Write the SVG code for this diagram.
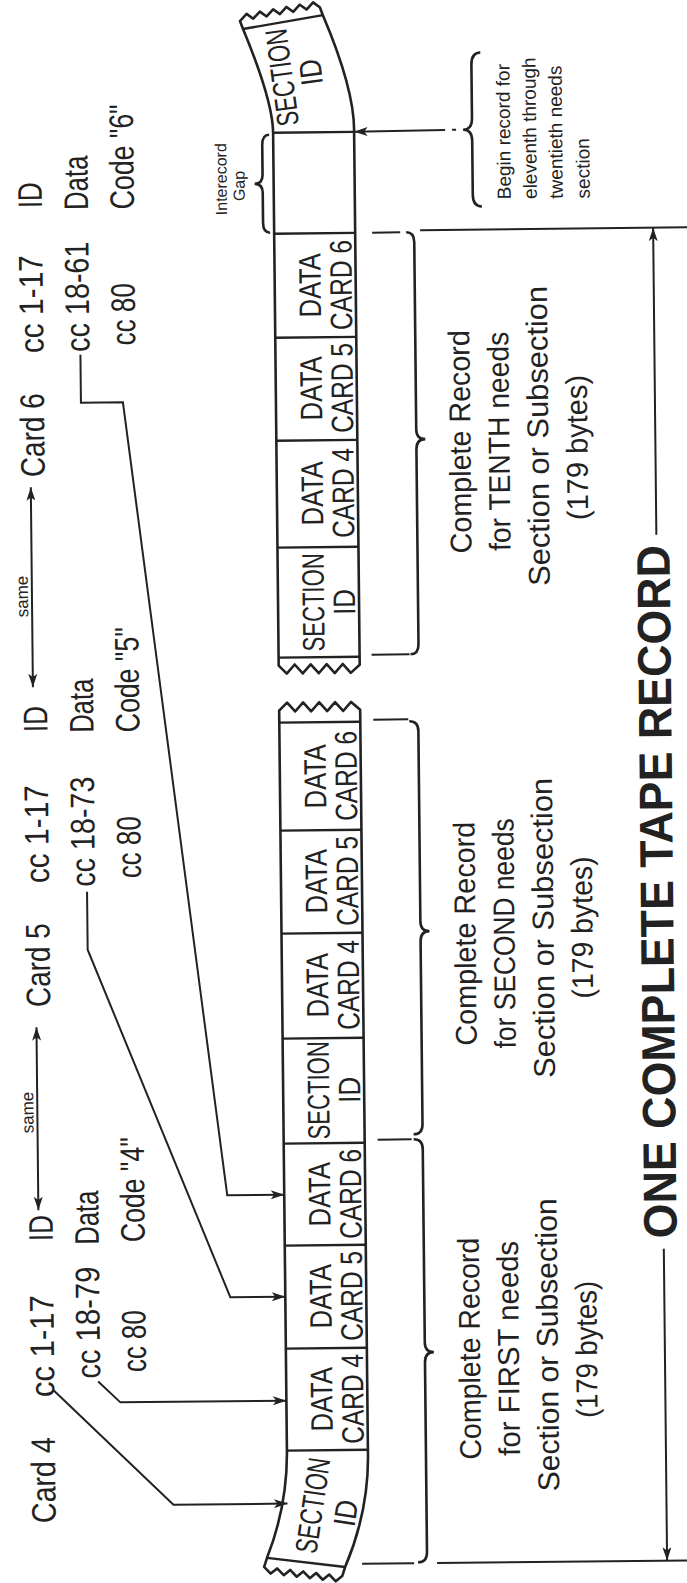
<svg xmlns="http://www.w3.org/2000/svg" width="687" height="1583" viewBox="0 0 687 1583">
<style>
.t{font-family:"Liberation Sans",Arial,sans-serif;fill:#222}
.lab{font-size:34px}
.sm{font-size:17px}
.box{font-size:31px}
.rec{font-size:30px}
.note{font-size:19px}
.gap{font-size:16px}
.big{font-size:47px;font-weight:bold}
.ln{stroke:#222;stroke-width:2;fill:none}
.br{stroke:#222;stroke-width:2.6;fill:none}
.tp{stroke:#222;stroke-width:2.6;fill:#fff;stroke-linejoin:round}
.sep{stroke:#222;stroke-width:2.4}
</style>
<defs>
<marker id="ah" viewBox="0 0 12 8" refX="12" refY="4" markerWidth="14" markerHeight="9" markerUnits="userSpaceOnUse" orient="auto-start-reverse"><path d="M0,0 L12,4 L0,8 L3,4 Z" fill="#222"/></marker>
</defs>
<rect width="687" height="1583" fill="#fff"/>
<g transform="rotate(-0.6 343 790)">

<g id="tape-lower">
<path class="tp" d="M280,710 L288,702 L296,711 L304,702 L312,711 L320,702 L328,711 L336,702 L344,711 L352,702 L361,710 L361,1450 Q362,1510 337,1567 L334,1576 L327.5,1581.2 L321,1574.3 L314.5,1579.5 L308,1572.7 L301.5,1577.8 L295,1571 L288.5,1576.2 L282,1569.3 L275.5,1574.5 L269,1567.7 L262.5,1572.8 L256,1566 L259,1557 Q280,1505 280,1450 Z"/>
<line class="sep" x1="280" y1="722" x2="361" y2="722"/>
<line class="sep" x1="280" y1="830" x2="361" y2="830"/>
<line class="sep" x1="280" y1="933" x2="361" y2="933"/>
<line class="sep" x1="280" y1="1038" x2="361" y2="1038"/>
<line class="sep" x1="280" y1="1143" x2="361" y2="1143"/>
<line class="sep" x1="280" y1="1245" x2="361" y2="1245"/>
<line class="sep" x1="280" y1="1348" x2="361" y2="1348"/>
<line class="sep" x1="280" y1="1450" x2="361" y2="1450"/>
<line class="sep" x1="259" y1="1557" x2="337" y2="1567"/>
</g>

<g id="tape-upper">
<path class="tp" d="M280,665 L288,673 L296,664 L304,673 L312,664 L320,673 L328,664 L336,673 L344,664 L352,673 L361,665 L361,132 Q362,90 331,15 L328,7 L321.3,2.1 L314.7,9.2 L308,4.3 L301.3,11.3 L294.7,6.4 L288,13.5 L281.3,8.6 L274.7,15.7 L268,10.8 L261.3,17.8 L254.7,12.9 L248,20 L251,28 Q280,100 280,132 Z"/>
<line class="sep" x1="280" y1="657" x2="361" y2="657"/>
<line class="sep" x1="280" y1="547" x2="361" y2="547"/>
<line class="sep" x1="280" y1="440" x2="361" y2="440"/>
<line class="sep" x1="280" y1="337" x2="361" y2="337"/>
<line class="sep" x1="280" y1="233" x2="361" y2="233"/>
<line class="sep" x1="280" y1="132" x2="361" y2="132"/>
<line class="sep" x1="251" y1="28" x2="331" y2="15"/>
</g>

<g id="rec1-section">
<text class="t box" text-anchor="middle" transform="translate(305,1505) rotate(-81)" y="11" textLength="96" lengthAdjust="spacingAndGlyphs">SECTION</text>
<text class="t box" text-anchor="middle" transform="translate(338,1513) rotate(-81)" y="11" textLength="26" lengthAdjust="spacingAndGlyphs">ID</text>
</g>
<g id="rec1-card4">
<text class="t box" text-anchor="middle" x="326" y="1399" transform="rotate(-90 326 1399)" textLength="64" lengthAdjust="spacingAndGlyphs">DATA</text>
<text class="t box" text-anchor="middle" x="357" y="1399" transform="rotate(-90 357 1399)" textLength="90" lengthAdjust="spacingAndGlyphs">CARD 4</text>
</g>
<g id="rec1-card5">
<text class="t box" text-anchor="middle" x="326" y="1296" transform="rotate(-90 326 1296)" textLength="64" lengthAdjust="spacingAndGlyphs">DATA</text>
<text class="t box" text-anchor="middle" x="357" y="1296" transform="rotate(-90 357 1296)" textLength="90" lengthAdjust="spacingAndGlyphs">CARD 5</text>
</g>
<g id="rec1-card6">
<text class="t box" text-anchor="middle" x="326" y="1194" transform="rotate(-90 326 1194)" textLength="64" lengthAdjust="spacingAndGlyphs">DATA</text>
<text class="t box" text-anchor="middle" x="357" y="1194" transform="rotate(-90 357 1194)" textLength="90" lengthAdjust="spacingAndGlyphs">CARD 6</text>
</g>
<g id="rec2-section">
<text class="t box" text-anchor="middle" x="326" y="1090" transform="rotate(-90 326 1090)" textLength="98" lengthAdjust="spacingAndGlyphs">SECTION</text>
<text class="t box" text-anchor="middle" x="357" y="1090" transform="rotate(-90 357 1090)" textLength="26" lengthAdjust="spacingAndGlyphs">ID</text>
</g>
<g id="rec2-card4">
<text class="t box" text-anchor="middle" x="326" y="985" transform="rotate(-90 326 985)" textLength="64" lengthAdjust="spacingAndGlyphs">DATA</text>
<text class="t box" text-anchor="middle" x="357" y="985" transform="rotate(-90 357 985)" textLength="90" lengthAdjust="spacingAndGlyphs">CARD 4</text>
</g>
<g id="rec2-card5">
<text class="t box" text-anchor="middle" x="326" y="881" transform="rotate(-90 326 881)" textLength="64" lengthAdjust="spacingAndGlyphs">DATA</text>
<text class="t box" text-anchor="middle" x="357" y="881" transform="rotate(-90 357 881)" textLength="90" lengthAdjust="spacingAndGlyphs">CARD 5</text>
</g>
<g id="rec2-card6">
<text class="t box" text-anchor="middle" x="326" y="776" transform="rotate(-90 326 776)" textLength="64" lengthAdjust="spacingAndGlyphs">DATA</text>
<text class="t box" text-anchor="middle" x="357" y="776" transform="rotate(-90 357 776)" textLength="90" lengthAdjust="spacingAndGlyphs">CARD 6</text>
</g>
<g id="rec10-section">
<text class="t box" text-anchor="middle" x="326" y="602" transform="rotate(-90 326 602)" textLength="98" lengthAdjust="spacingAndGlyphs">SECTION</text>
<text class="t box" text-anchor="middle" x="357" y="602" transform="rotate(-90 357 602)" textLength="26" lengthAdjust="spacingAndGlyphs">ID</text>
</g>
<g id="rec10-card4">
<text class="t box" text-anchor="middle" x="326" y="493" transform="rotate(-90 326 493)" textLength="64" lengthAdjust="spacingAndGlyphs">DATA</text>
<text class="t box" text-anchor="middle" x="357" y="493" transform="rotate(-90 357 493)" textLength="90" lengthAdjust="spacingAndGlyphs">CARD 4</text>
</g>
<g id="rec10-card5">
<text class="t box" text-anchor="middle" x="326" y="388" transform="rotate(-90 326 388)" textLength="64" lengthAdjust="spacingAndGlyphs">DATA</text>
<text class="t box" text-anchor="middle" x="357" y="388" transform="rotate(-90 357 388)" textLength="90" lengthAdjust="spacingAndGlyphs">CARD 5</text>
</g>
<g id="rec10-card6">
<text class="t box" text-anchor="middle" x="326" y="285" transform="rotate(-90 326 285)" textLength="64" lengthAdjust="spacingAndGlyphs">DATA</text>
<text class="t box" text-anchor="middle" x="357" y="285" transform="rotate(-90 357 285)" textLength="90" lengthAdjust="spacingAndGlyphs">CARD 6</text>
</g>
<g id="rec11-section">
<text class="t" style="font-size:22px" text-anchor="middle" transform="translate(289,77) rotate(-97) scale(1,1.4)" y="8">SECTION</text>
<text class="t box" text-anchor="middle" transform="translate(318,72) rotate(-97)" y="11" textLength="26" lengthAdjust="spacingAndGlyphs">ID</text>
</g>

<g id="card4-labels">
<text class="t lab" x="48" y="1520" transform="rotate(-90 48 1520)" textLength="86" lengthAdjust="spacingAndGlyphs">Card 4</text>
<text class="t lab" x="48" y="1394" transform="rotate(-90 48 1394)" textLength="102" lengthAdjust="spacingAndGlyphs">cc 1-17</text>
<text class="t lab" x="94" y="1376" transform="rotate(-90 94 1376)" textLength="112" lengthAdjust="spacingAndGlyphs">cc 18-79</text>
<text class="t lab" x="140" y="1370" transform="rotate(-90 140 1370)" textLength="62" lengthAdjust="spacingAndGlyphs">cc 80</text>
<text class="t lab" x="48" y="1238" transform="rotate(-90 48 1238)" textLength="26" lengthAdjust="spacingAndGlyphs">ID</text>
<text class="t lab" x="94" y="1242" transform="rotate(-90 94 1242)" textLength="54" lengthAdjust="spacingAndGlyphs">Data</text>
<text class="t lab" x="140" y="1240" transform="rotate(-90 140 1240)" textLength="105" lengthAdjust="spacingAndGlyphs">Code "4"</text>
<text class="t sm" x="30" y="1130" transform="rotate(-90 30 1130)">same</text>
</g>
<g id="card5-labels">
<text class="t lab" x="48" y="1004" transform="rotate(-90 48 1004)" textLength="84" lengthAdjust="spacingAndGlyphs">Card 5</text>
<text class="t lab" x="48" y="880" transform="rotate(-90 48 880)" textLength="98" lengthAdjust="spacingAndGlyphs">cc 1-17</text>
<text class="t lab" x="94" y="884" transform="rotate(-90 94 884)" textLength="110" lengthAdjust="spacingAndGlyphs">cc 18-73</text>
<text class="t lab" x="140" y="876" transform="rotate(-90 140 876)" textLength="62" lengthAdjust="spacingAndGlyphs">cc 80</text>
<text class="t lab" x="48" y="729" transform="rotate(-90 48 729)" textLength="26" lengthAdjust="spacingAndGlyphs">ID</text>
<text class="t lab" x="94" y="730" transform="rotate(-90 94 730)" textLength="54" lengthAdjust="spacingAndGlyphs">Data</text>
<text class="t lab" x="140" y="730" transform="rotate(-90 140 730)" textLength="105" lengthAdjust="spacingAndGlyphs">Code "5"</text>
<text class="t sm" x="30" y="614" transform="rotate(-90 30 614)">same</text>
</g>
<g id="card6-labels">
<text class="t lab" x="48" y="474" transform="rotate(-90 48 474)" textLength="84" lengthAdjust="spacingAndGlyphs">Card 6</text>
<text class="t lab" x="48" y="350" transform="rotate(-90 48 350)" textLength="98" lengthAdjust="spacingAndGlyphs">cc 1-17</text>
<text class="t lab" x="94" y="349" transform="rotate(-90 94 349)" textLength="110" lengthAdjust="spacingAndGlyphs">cc 18-61</text>
<text class="t lab" x="140" y="343" transform="rotate(-90 140 343)" textLength="62" lengthAdjust="spacingAndGlyphs">cc 80</text>
<text class="t lab" x="48" y="205" transform="rotate(-90 48 205)" textLength="26" lengthAdjust="spacingAndGlyphs">ID</text>
<text class="t lab" x="94" y="207" transform="rotate(-90 94 207)" textLength="54" lengthAdjust="spacingAndGlyphs">Data</text>
<text class="t lab" x="140" y="207" transform="rotate(-90 140 207)" textLength="105" lengthAdjust="spacingAndGlyphs">Code "6"</text>
</g>

<g id="first-record-label">
<text class="t rec" text-anchor="middle" x="474" y="1350" transform="rotate(-90 474 1350)" textLength="222" lengthAdjust="spacingAndGlyphs">Complete Record</text>
<text class="t rec" text-anchor="middle" x="513" y="1350" transform="rotate(-90 513 1350)" textLength="215" lengthAdjust="spacingAndGlyphs">for FIRST needs</text>
<text class="t rec" text-anchor="middle" x="552" y="1347" transform="rotate(-90 552 1347)" textLength="293" lengthAdjust="spacingAndGlyphs">Section or Subsection</text>
<text class="t rec" text-anchor="middle" x="591" y="1352" transform="rotate(-90 591 1352)" textLength="137" lengthAdjust="spacingAndGlyphs">(179 bytes)</text>
</g>
<g id="second-record-label">
<text class="t rec" text-anchor="middle" x="474" y="935" transform="rotate(-90 474 935)" textLength="224" lengthAdjust="spacingAndGlyphs">Complete Record</text>
<text class="t rec" text-anchor="middle" x="513" y="935" transform="rotate(-90 513 935)" textLength="230" lengthAdjust="spacingAndGlyphs">for SECOND needs</text>
<text class="t rec" text-anchor="middle" x="552" y="930" transform="rotate(-90 552 930)" textLength="300" lengthAdjust="spacingAndGlyphs">Section or Subsection</text>
<text class="t rec" text-anchor="middle" x="591" y="930" transform="rotate(-90 591 930)" textLength="142" lengthAdjust="spacingAndGlyphs">(179 bytes)</text>
</g>
<g id="tenth-record-label">
<text class="t rec" text-anchor="middle" x="474" y="443" transform="rotate(-90 474 443)" textLength="223" lengthAdjust="spacingAndGlyphs">Complete Record</text>
<text class="t rec" text-anchor="middle" x="513" y="443" transform="rotate(-90 513 443)" textLength="219" lengthAdjust="spacingAndGlyphs">for TENTH needs</text>
<text class="t rec" text-anchor="middle" x="552" y="438" transform="rotate(-90 552 438)" textLength="300" lengthAdjust="spacingAndGlyphs">Section or Subsection</text>
<text class="t rec" text-anchor="middle" x="591" y="450" transform="rotate(-90 591 450)" textLength="145" lengthAdjust="spacingAndGlyphs">(179 bytes)</text>
</g>
<g id="begin-record-label">
<text class="t note" x="517" y="201" transform="rotate(-90 517 201)">Begin record for</text>
<text class="t note" x="543" y="201" transform="rotate(-90 543 201)">eleventh through</text>
<text class="t note" x="569" y="201" transform="rotate(-90 569 201)">twentieth needs</text>
<text class="t note" x="596" y="201" transform="rotate(-90 596 201)">section</text>
</g>
<g id="gap-label">
<text class="t gap" text-anchor="middle" x="233" y="178" transform="rotate(-90 233 178)">Interecord</text>
<text class="t gap" text-anchor="middle" x="251" y="185" transform="rotate(-90 251 185)">Gap</text>
</g>
<g id="tape-record-label">
<text class="t big" text-anchor="middle" transform="translate(672,895) rotate(-90) scale(0.953,1)">ONE COMPLETE TAPE RECORD</text>
</g>

<g id="connectors">
<polyline class="ln" points="47,1387 166,1503 280,1503" marker-end="url(#ah)"/>
<polyline class="ln" points="92,1379 114,1400 280,1400" marker-end="url(#ah)"/>
<polyline class="ln" points="86,889 86,947 225,1296 280,1296" marker-end="url(#ah)"/>
<polyline class="ln" points="85,352 85,400 127,400 223,1194 280,1194" marker-end="url(#ah)"/>
<line class="ln" x1="34" y1="1024" x2="34" y2="1207" marker-start="url(#ah)" marker-end="url(#ah)"/>
<line class="ln" x1="34" y1="484" x2="34" y2="684" marker-start="url(#ah)" marker-end="url(#ah)"/>
<line class="ln" x1="452" y1="131" x2="361" y2="132" marker-end="url(#ah)"/>
<line class="ln" x1="459" y1="131" x2="463" y2="131"/>
<path class="br" d="M410,1140 Q419,1140 419,1150 L419,1343 Q419,1353 428,1353 Q419,1353 419,1363 L419,1553 Q419,1563 410,1563"/>
<path class="br" d="M410,722 Q419,722 419,732 L419,922 Q419,932 428,932 Q419,932 419,942 L419,1125 Q419,1135 410,1135"/>
<path class="br" d="M412,233 Q420,233 420,243 L420,430 Q420,440 429,440 Q420,440 420,450 L420,645 Q420,655 412,655"/>
<path class="br" d="M276,134 Q269,134 269,144 L269,174 Q269,183 261,183 Q269,183 269,192 L269,222 Q269,232 276,232"/>
<path class="br" d="M488,54 Q479,54 479,66 L479,120 Q479,131 470,131 Q479,131 479,142 L479,196 Q479,208 488,208"/>
<line class="ln" x1="354" y1="1564" x2="406" y2="1564"/>
<line class="ln" x1="374" y1="1140" x2="408" y2="1140"/>
<line class="ln" x1="374" y1="720" x2="409" y2="720"/>
<line class="ln" x1="373" y1="655" x2="411" y2="655"/>
<line class="ln" x1="378" y1="233" x2="406" y2="233"/>
<line class="ln" x1="426" y1="231" x2="700" y2="231"/>
<line class="ln" x1="429" y1="1564" x2="700" y2="1564"/>
<line class="ln" x1="659" y1="1252" x2="659" y2="1564" marker-end="url(#ah)"/>
<line class="ln" x1="659" y1="538" x2="659" y2="231" marker-end="url(#ah)"/>
</g>
</g>
</svg>
